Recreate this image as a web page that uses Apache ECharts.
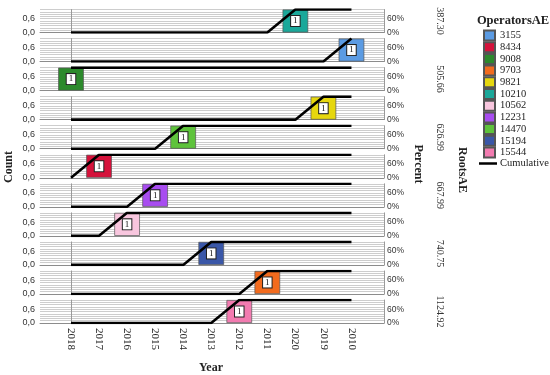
<!DOCTYPE html>
<html>
<head>
<meta charset="utf-8">
<script src="https://cdn.jsdelivr.net/npm/echarts@6/dist/echarts.min.js"></script>
<style>html,body{margin:0;padding:0;background:#fff;}#c{width:550px;height:375px;}#err{position:absolute;left:0;top:0;font:9px monospace;white-space:pre-wrap;width:550px;color:#c00;}</style>
</head>
<body>
<div id="c"></div>
<div id="err"></div>
<script>
// ---- data ----
var categories = ['2018','2017','2016','2015','2014','2013','2012','2011','2020','2019','2010'];
var panelOperators = ['10210','3155','9008','9821','14470','8434','12231','10562','15194','9703','15544'];
var panelYears = ['2020','2010','2018','2019','2014','2017','2015','2016','2013','2011','2012'];
var panelCounts = [1,1,1,1,1,1,1,1,1,1,1];
var panelRoots = ['387.30','','505.66','','626.99','','667.99','','740.75','','1124.92'];
var legendOperators = ['3155','8434','9008','9703','9821','10210','10562','12231','14470','15194','15544'];
var leftTicks = [0, 0.6];
var rightTicks = [0, 0.6];

// ---- styles ----
var operatorColors = {
  '3155':'#5B9BE3','8434':'#D5123B','9008':'#2C8A2C','9703':'#F26B1E','9821':'#E6D70E',
  '10210':'#1BA89A','10562':'#F8C6DE','12231':'#A84DF0','14470':'#5EC33B','15194':'#3A57A8','15544':'#F27BB0'
};
var serif = 'Liberation Serif';
var sans = 'Liberation Sans';
var panelTop0 = 9.5, panelStep = 29.05, panelH = 23;
var xMin = -1.105, xMax = 11.16;

var grids = [], xAxes = [], yAxes = [], series = [], graphics = [];
var n = panelOperators.length;
function fmtTick(v, ticks, kind) {
  for (var k = 0; k < ticks.length; k++) {
    if (Math.abs(v - ticks[k]) < 1e-6) {
      if (kind === 'count') return ticks[k].toFixed(1).replace('.', ',');
      return Math.round(ticks[k] * 100) + '%';
    }
  }
  return '';
}
for (var i = 0; i < n; i++) {
  var pTop = panelTop0 + i * panelStep;
  grids.push({left: 40, right: 166, top: pTop, height: panelH});
  var last = (i === n - 1);
  xAxes.push({
    type: 'value', gridIndex: i, min: xMin, max: xMax,
    splitLine: {show: false},
    axisTick: {show: false},
    axisLine: {show: true, lineStyle: {color: '#8c8c8c', width: 1}},
    axisLabel: last ? {
      show: true, customValues: categories.map(function(_, k){return k;}),
      formatter: function(v){ return categories[Math.round(v)]; },
      rotate: -90, margin: 5, fontFamily: serif, fontSize: 11, color: '#222'
    } : {show: false}
  });
  yAxes.push({
    type: 'value', gridIndex: i, min: 0, max: 1, interval: 0.1, position: 'left',
    axisLine: {show: true, lineStyle: {color: '#9a9a9a'}},
    axisTick: {show: false},
    splitLine: {show: true, lineStyle: {color: '#cdcdcd', width: 1}},
    axisLabel: {formatter: function(v){return fmtTick(v, leftTicks, 'count');}, fontFamily: sans, fontSize: 9, color: '#333', margin: 5}
  });
  yAxes.push({
    type: 'value', gridIndex: i, min: 0, max: 1, interval: 0.1, position: 'right',
    axisLine: {show: true, lineStyle: {color: '#9a9a9a'}},
    axisTick: {show: false},
    splitLine: {show: false},
    axisLabel: {formatter: function(v){return fmtTick(v, rightTicks, 'pct');}, fontFamily: sans, fontSize: 8.5, color: '#333', margin: 3}
  });
  var op = panelOperators[i];
  var yi = categories.indexOf(panelYears[i]);
  series.push({
    type: 'bar', name: op, xAxisIndex: i, yAxisIndex: 2 * i,
    data: [[yi, panelCounts[i]]], barWidth: 25.6, z: 2,
    itemStyle: {color: operatorColors[op], borderColor: '#555', borderWidth: 0.7},
    label: {show: true, position: 'inside', formatter: '1', backgroundColor: '#fff', borderColor: '#222', borderWidth: 1,
            padding: [1, 2, 0, 2], fontSize: 9, fontFamily: serif, color: '#111'}
  });
  var counts = categories.map(function(c){ return c === panelYears[i] ? panelCounts[i] : 0; });
  var total = counts.reduce(function(a,b){return a+b;}, 0);
  var run = 0, cum = [];
  for (var k = 0; k < categories.length; k++) { run += counts[k]; cum.push([k, run / total]); }
  series.push({
    type: 'line', name: 'Cumulative', xAxisIndex: i, yAxisIndex: 2 * i + 1,
    data: cum, symbol: 'none', z: 3,
    lineStyle: {color: '#000', width: 2.6}, itemStyle: {color: '#000'}
  });
  if (panelRoots[i]) {
    graphics.push({type: 'text', x: 440, y: pTop + panelH / 2, rotation: -Math.PI / 2,
      style: {text: panelRoots[i], fontFamily: serif, fontSize: 10, fill: '#333', textAlign: 'center', textVerticalAlign: 'middle'}});
  }
}
graphics.push({type: 'text', x: 9, y: 167, rotation: Math.PI / 2,
  style: {text: 'Count', fontFamily: serif, fontWeight: 'bold', fontSize: 12, fill: '#222', textAlign: 'center', textVerticalAlign: 'middle'}});
graphics.push({type: 'text', x: 418, y: 164, rotation: -Math.PI / 2,
  style: {text: 'Percent', fontFamily: serif, fontWeight: 'bold', fontSize: 12, fill: '#222', textAlign: 'center', textVerticalAlign: 'middle'}});
graphics.push({type: 'text', x: 462, y: 170, rotation: -Math.PI / 2,
  style: {text: 'RootsAE', fontFamily: serif, fontWeight: 'bold', fontSize: 12, fill: '#222', textAlign: 'center', textVerticalAlign: 'middle'}});
graphics.push({type: 'text', x: 211, y: 368,
  style: {text: 'Year', fontFamily: serif, fontWeight: 'bold', fontSize: 12, fill: '#222', textAlign: 'center', textVerticalAlign: 'middle'}});
graphics.push({type: 'text', x: 513, y: 21,
  style: {text: 'OperatorsAE', fontFamily: serif, fontWeight: 'bold', fontSize: 12.5, fill: '#222', textAlign: 'center', textVerticalAlign: 'middle'}});

var chart = echarts.init(document.getElementById('c'), null, {renderer: 'canvas'});
var opt = {
  animation: false,
  backgroundColor: '#fff',
  grid: grids, xAxis: xAxes, yAxis: yAxes, series: series,
  legend: [{
    data: legendOperators, orient: 'vertical', left: 483, top: 29.5, padding: 0,
    itemWidth: 11, itemHeight: 10, itemGap: -0.3, icon: 'rect', selectedMode: false,
    textStyle: {fontFamily: serif, fontSize: 10.5, color: '#222'}
  }, {
    data: [{name: 'Cumulative', icon: 'rect'}], orient: 'vertical', left: 479, top: 158, padding: 0,
    itemWidth: 18, itemHeight: 2.5, selectedMode: false,
    itemStyle: {color: '#000', borderWidth: 0},
    textStyle: {fontFamily: serif, fontSize: 10.5, color: '#222', padding: [0, 0, 0, -2]}
  }],
  graphic: graphics
};
try {
  chart.setOption(opt);
} catch (e) {
  document.getElementById('err').textContent = String(e) + '\n' + (e.stack || '').slice(0, 1500);
}
</script>
</body>
</html>
